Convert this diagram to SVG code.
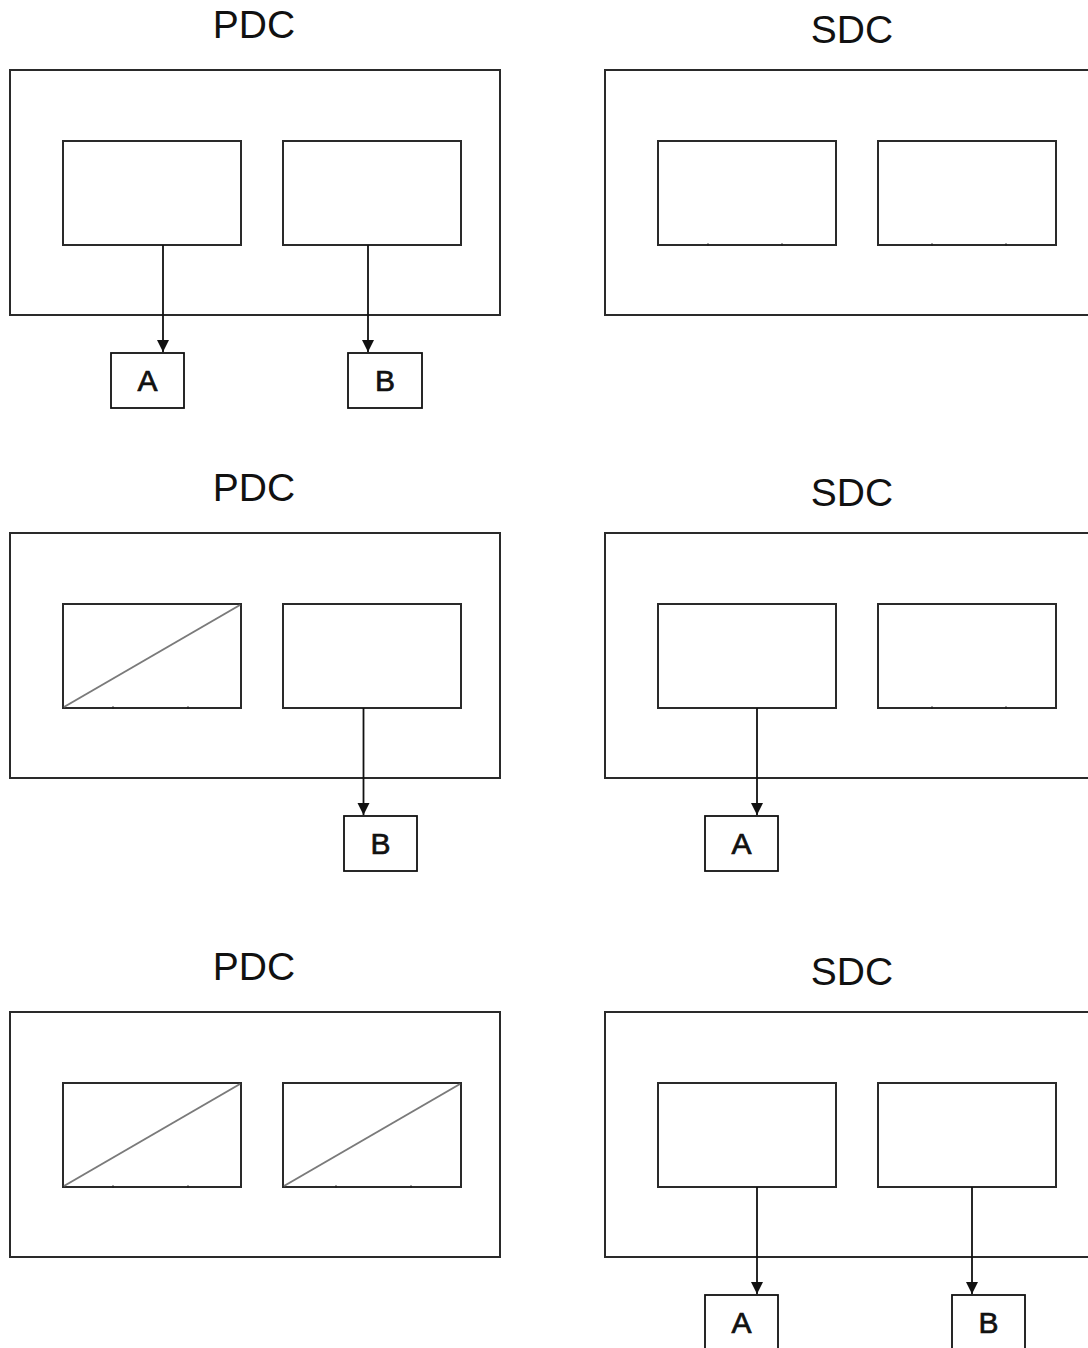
<svg xmlns="http://www.w3.org/2000/svg" width="1088" height="1348" viewBox="0 0 1088 1348">
  <defs>
    <style>
      .title { font-family: "Liberation Sans", Arial, sans-serif; font-size: 39px; fill: #111; text-anchor: middle; }
      .lbl { font-family: "Liberation Sans", Arial, sans-serif; font-size: 30px; fill: #111; stroke: #111; stroke-width: 0.7; text-anchor: middle; }
      .outer { fill: none; stroke: #2a2a2a; stroke-width: 2; }
      .inner { fill: #fff; stroke: #2a2a2a; stroke-width: 2; }
      .out { fill: #fff; stroke: #111; stroke-width: 1.8; }
      .diag { stroke: #7a7a7a; stroke-width: 2; }
      .tick { stroke: #222; stroke-width: 1.5; }
      .conn { stroke: #111; stroke-width: 1.8; fill: none; marker-end: url(#arrow); }
    </style>
    <marker id="arrow" viewBox="0 0 12 13" refX="12" refY="6.5" markerWidth="12" markerHeight="13" markerUnits="userSpaceOnUse" orient="auto">
      <path d="M0,0.5 L12,6.5 L0,12.5 Z" fill="#111"/>
    </marker>
  </defs>
  <rect width="1088" height="1348" fill="#fff"/>

  <!-- Row 1: both outputs from PDC -->
  <g id="row1">
    <g id="pdc1">
      <text class="title" x="254" y="38">PDC</text>
      <rect class="outer" x="10" y="70" width="490" height="245"/>
      <rect class="inner" x="63" y="141" width="178" height="104"/>
      <rect class="inner" x="283" y="141" width="178" height="104"/>
    </g>
    <g id="sdc1">
      <text class="title" x="852" y="43">SDC</text>
      <path class="outer" d="M1090,70 H605 V315 H1090"/>
      <rect class="inner" x="658" y="141" width="178" height="104"/>
      <rect class="inner" x="878" y="141" width="178" height="104"/>
      <path class="tick" d="M708,243.5v2.5M782,243.5v2.5M932,243.5v2.5M1006,243.5v2.5"/>
    </g>
    <g id="a1">
      <rect class="out" x="111" y="353" width="73" height="55"/>
      <text class="lbl" x="147.5" y="391">A</text>
    </g>
    <g id="b1">
      <rect class="out" x="348" y="353" width="74" height="55"/>
      <text class="lbl" x="385" y="391">B</text>
    </g>
  </g>

  <!-- Row 2: left unit of PDC failed, A moves to SDC -->
  <g id="row2">
    <g id="pdc2">
      <text class="title" x="254" y="501">PDC</text>
      <rect class="outer" x="10" y="533" width="490" height="245"/>
      <rect class="inner" x="63" y="604" width="178" height="104"/>
      <line class="diag" x1="64" y1="707" x2="240" y2="605"/>
      <rect class="inner" x="283" y="604" width="178" height="104"/>
      <path class="tick" d="M113,706.5v2.5M188,706.5v2.5"/>
    </g>
    <g id="sdc2">
      <text class="title" x="852" y="506">SDC</text>
      <path class="outer" d="M1090,533 H605 V778 H1090"/>
      <rect class="inner" x="658" y="604" width="178" height="104"/>
      <rect class="inner" x="878" y="604" width="178" height="104"/>
      <path class="tick" d="M932,706.5v2.5M1006,706.5v2.5"/>
    </g>
    <g id="b2">
      <rect class="out" x="344" y="816" width="73" height="55"/>
      <text class="lbl" x="380.5" y="854">B</text>
    </g>
    <g id="a2">
      <rect class="out" x="705" y="816" width="73" height="55"/>
      <text class="lbl" x="741.5" y="854">A</text>
    </g>
  </g>

  <!-- Row 3: both PDC units failed, A and B from SDC -->
  <g id="row3">
    <g id="pdc3">
      <text class="title" x="254" y="980">PDC</text>
      <rect class="outer" x="10" y="1012" width="490" height="245"/>
      <rect class="inner" x="63" y="1083" width="178" height="104"/>
      <line class="diag" x1="64" y1="1186" x2="240" y2="1084"/>
      <rect class="inner" x="283" y="1083" width="178" height="104"/>
      <line class="diag" x1="284" y1="1186" x2="460" y2="1084"/>
      <path class="tick" d="M113,1185.5v2.5M188,1185.5v2.5M336,1185.5v2.5M411,1185.5v2.5"/>
    </g>
    <g id="sdc3">
      <text class="title" x="852" y="985">SDC</text>
      <path class="outer" d="M1090,1012 H605 V1257 H1090"/>
      <rect class="inner" x="658" y="1083" width="178" height="104"/>
      <rect class="inner" x="878" y="1083" width="178" height="104"/>
    </g>
    <g id="a3">
      <rect class="out" x="705" y="1295" width="73" height="60"/>
      <text class="lbl" x="741.5" y="1333">A</text>
    </g>
    <g id="b3">
      <rect class="out" x="952" y="1295" width="73" height="60"/>
      <text class="lbl" x="988.5" y="1333">B</text>
    </g>
  </g>

  <!-- connectors -->
  <g id="connectors">
    <line class="conn" x1="163" y1="245" x2="163" y2="352"/>
    <line class="conn" x1="368" y1="245" x2="368" y2="352"/>
    <line class="conn" x1="363.5" y1="708" x2="363.5" y2="815"/>
    <line class="conn" x1="757" y1="708" x2="757" y2="815"/>
    <line class="conn" x1="757" y1="1187" x2="757" y2="1294"/>
    <line class="conn" x1="972" y1="1187" x2="972" y2="1294"/>
  </g>
</svg>
